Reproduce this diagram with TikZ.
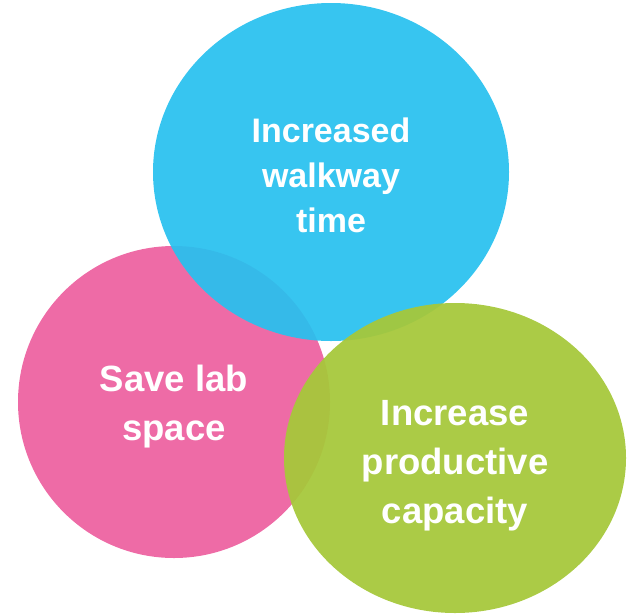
\documentclass[tikz,border=0pt]{standalone}
\usepackage{fontspec}
\setmainfont{Liberation Sans}
\definecolor{cblue}{HTML}{28C1EF}
\definecolor{cpink}{HTML}{EE6BA6}
\definecolor{cgreen}{HTML}{A6C83A}
\begin{document}
\begin{tikzpicture}[x=1pt,y=-1pt,
  lbl/.style={text=white,font=\fontsize{36.5}{49}\selectfont\bfseries,align=center}]
\useasboundingbox (0,0) rectangle (628,613);
\fill[cpink] (174,402) ellipse [x radius=156, y radius=156];
\fill[cblue,fill opacity=0.93] (331,172) ellipse [x radius=178, y radius=169];
\fill[cgreen,fill opacity=0.94] (455,458) ellipse [x radius=171, y radius=155];
\node[lbl,font=\fontsize{34}{45}\selectfont\bfseries] (t1) at (331,175) {Increased\\walkway\\time};
\node[lbl] (t2) at (174,407) {Save lab\\space};
\node[lbl] (t3) at (455,466) {Increase\\productive\\capacity};
\end{tikzpicture}
\end{document}
